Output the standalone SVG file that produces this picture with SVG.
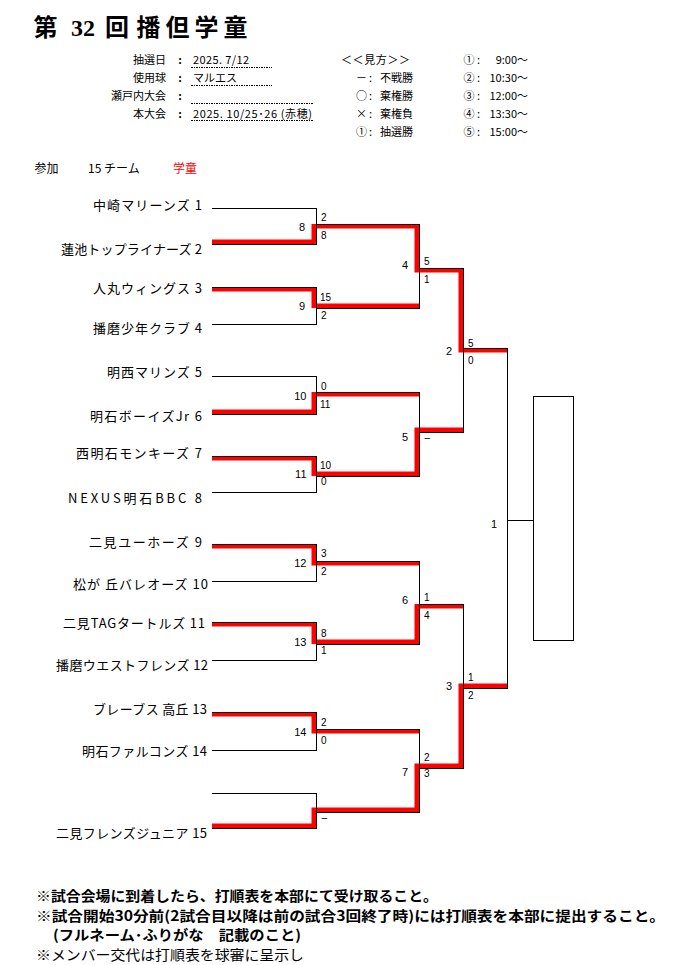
<svg xmlns="http://www.w3.org/2000/svg" width="694" height="965" viewBox="0 0 694 965">
<style>
text { font-family: "Noto Sans CJK JP", "Liberation Sans", sans-serif; fill: #000; }
.team { font-size: 13px; text-anchor: end; }
.sc { font-family: "Liberation Sans", sans-serif; font-size: 10px; }
.ml { font-family: "Liberation Sans", sans-serif; font-size: 11px; text-anchor: end; }
.inf { font-size: 11px; }
.lbl { font-size: 11px; text-anchor: end; }
.ln { stroke: #000; stroke-width: 1; fill: none; shape-rendering: crispEdges; }
.dot { stroke: #000; stroke-width: 1; stroke-dasharray: 1.5 1; fill: none; shape-rendering: crispEdges; }
.rd { fill: #ff0000; }
.ft { font-size: 14px; font-weight: bold; }
.ftn { font-size: 14px; font-weight: normal; }
</style>
<rect width="694" height="965" fill="#fff"/>

<g id="header">
  <text font-size="24" font-weight="bold" y="36"><tspan x="33.5">第</tspan><tspan x="71" font-family="Liberation Serif, serif">32</tspan><tspan x="105">回</tspan><tspan x="136.5" textLength="111">播但学童</tspan></text>
  <text class="inf lbl" x="166" y="64">抽選日</text>
  <text class="inf lbl" x="166" y="82">使用球</text>
  <text class="inf lbl" x="166" y="100">瀬戸内大会</text>
  <text class="inf lbl" x="166" y="118">本大会</text>
  <text class="inf" x="180" y="64" text-anchor="middle" font-weight="bold">:</text>
  <text class="inf" x="180" y="82" text-anchor="middle" font-weight="bold">:</text>
  <text class="inf" x="180" y="100" text-anchor="middle" font-weight="bold">:</text>
  <text class="inf" x="180" y="118" text-anchor="middle" font-weight="bold">:</text>
  <text class="inf" x="193" y="64" textLength="56">2025. 7/12</text>
  <text class="inf" x="193" y="82">マルエス</text>
  <text class="inf" x="193" y="118" textLength="119">2025. 10/25･26 (赤穂)</text>
  <path class="dot" d="M191 67.5H272M191 85H272M191 103H313M191 120.5H313"/>

  <text class="inf" x="341" y="64" textLength="69">＜＜見方＞＞</text>
  <text class="inf" x="356" y="82">－</text><text class="inf" x="369" y="82">:</text><text class="inf" x="380" y="82">不戦勝</text>
  <text class="inf" x="356" y="100">○</text><text class="inf" x="369" y="100">:</text><text class="inf" x="380" y="100">棄権勝</text>
  <text class="inf" x="356" y="118">×</text><text class="inf" x="369" y="118">:</text><text class="inf" x="380" y="118">棄権負</text>
  <text class="inf" x="356" y="136">①</text><text class="inf" x="369" y="136">:</text><text class="inf" x="380" y="136">抽選勝</text>

  <text class="inf" x="463.5" y="64">①</text><text class="inf" x="477" y="64">:</text><text class="inf" x="528" y="64" text-anchor="end">9:00～</text>
  <text class="inf" x="463.5" y="82">②</text><text class="inf" x="477" y="82">:</text><text class="inf" x="528" y="82" text-anchor="end">10:30～</text>
  <text class="inf" x="463.5" y="100">③</text><text class="inf" x="477" y="100">:</text><text class="inf" x="528" y="100" text-anchor="end">12:00～</text>
  <text class="inf" x="463.5" y="118">④</text><text class="inf" x="477" y="118">:</text><text class="inf" x="528" y="118" text-anchor="end">13:30～</text>
  <text class="inf" x="463.5" y="136">⑤</text><text class="inf" x="477" y="136">:</text><text class="inf" x="528" y="136" text-anchor="end">15:00～</text>

  <text font-size="12" x="34.5" y="173">参加</text>
  <text font-size="12" x="88" y="173">15 チーム</text>
  <text font-size="12" x="173" y="173" style="fill:#ff0000">学童</text>
</g>

<g id="connectors">
  <g id="red-path">
    <rect class="rd" x="212" y="239.5" width="104" height="4.5"/>
    <rect class="rd" x="212" y="287" width="104" height="4.5"/>
    <rect class="rd" x="212" y="409.5" width="104" height="4.5"/>
    <rect class="rd" x="212" y="456" width="104" height="4.5"/>
    <rect class="rd" x="212" y="544" width="104" height="4.5"/>
    <rect class="rd" x="212" y="622" width="104" height="4.5"/>
    <rect class="rd" x="212" y="712" width="104" height="4.5"/>
    <rect class="rd" x="212" y="823.5" width="104" height="4.5"/>

    <rect class="rd" x="311.5" y="224" width="4.5" height="20"/>
    <rect class="rd" x="311.5" y="287" width="4.5" height="21"/>
    <rect class="rd" x="311.5" y="392" width="4.5" height="22"/>
    <rect class="rd" x="311.5" y="456" width="4.5" height="20"/>
    <rect class="rd" x="311.5" y="544" width="4.5" height="21.5"/>
    <rect class="rd" x="311.5" y="622" width="4.5" height="22"/>
    <rect class="rd" x="311.5" y="712" width="4.5" height="21.5"/>
    <rect class="rd" x="311.5" y="807.5" width="4.5" height="20.5"/>

    <rect class="rd" x="316" y="224" width="103" height="4.5"/>
    <rect class="rd" x="316" y="303.5" width="103" height="4.5"/>
    <rect class="rd" x="316" y="392" width="103" height="4.5"/>
    <rect class="rd" x="316" y="471.5" width="103" height="4.5"/>
    <rect class="rd" x="316" y="561" width="103" height="4.5"/>
    <rect class="rd" x="316" y="639.5" width="103" height="4.5"/>
    <rect class="rd" x="316" y="729" width="103" height="4.5"/>
    <rect class="rd" x="316" y="807.5" width="103" height="4.5"/>

    <rect class="rd" x="414.5" y="224" width="4.5" height="48.5"/>
    <rect class="rd" x="414.5" y="427.5" width="4.5" height="48.5"/>
    <rect class="rd" x="414.5" y="604" width="4.5" height="40"/>
    <rect class="rd" x="414.5" y="763.5" width="4.5" height="48.5"/>

    <rect class="rd" x="419" y="268" width="44" height="4.5"/>
    <rect class="rd" x="419" y="427.5" width="44" height="4.5"/>
    <rect class="rd" x="419" y="604" width="44" height="4.5"/>
    <rect class="rd" x="419" y="763.5" width="44" height="4.5"/>

    <rect class="rd" x="458.5" y="268" width="4.5" height="84.5"/>
    <rect class="rd" x="458.5" y="683.5" width="4.5" height="84.5"/>

    <rect class="rd" x="463" y="348" width="44" height="4.5"/>
    <rect class="rd" x="463" y="683.5" width="44" height="4.5"/>
  </g>
  <path class="ln" d="M212 208H316V244H212M212 287H316V324H212M212 376H316V414H212M212 456H316V492H212M212 544H316V581H212M212 622H316V660H212M212 712H316V750H212M212 793H316V828H212"/>
  <path class="ln" d="M316 224H419V308H316M316 392H419V476H316M316 561H419V644H316M316 729H419V812H316"/>
  <path class="ln" d="M419 268H463V432H419M419 604H463V768H419"/>
  <path class="ln" d="M463 348H507V688H463M507 520H533.5"/>
</g>

<g id="winner-box"><rect class="ln" x="533.5" y="396" width="40" height="244"/></g>

<g id="team-1"><text class="team" x="202" y="210" textLength="109">中崎マリーンズ 1</text></g>
<g id="team-2"><text class="team" x="202" y="254" textLength="141">蓮池トップライナーズ 2</text></g>
<g id="team-3"><text class="team" x="202" y="293" textLength="109">人丸ウィングス 3</text></g>
<g id="team-4"><text class="team" x="202" y="333" textLength="109">播磨少年クラブ 4</text></g>
<g id="team-5"><text class="team" x="202" y="377" textLength="95">明西マリンズ 5</text></g>
<g id="team-6"><text class="team" x="202" y="421" textLength="112">明石ボーイズJr 6</text></g>
<g id="team-7"><text class="team" x="202" y="458" textLength="126">西明石モンキーズ 7</text></g>
<g id="team-8"><text class="team" x="202" y="503" textLength="134">NEXUS明石BBC 8</text></g>
<g id="team-9"><text class="team" x="202" y="547" textLength="113">二見ユーホーズ 9</text></g>
<g id="team-10"><text class="team" x="208" y="589" textLength="135">松が 丘バレオーズ 10</text></g>
<g id="team-11"><text class="team" x="205" y="628" textLength="142">二見TAGタートルズ 11</text></g>
<g id="team-12"><text class="team" x="208" y="670" textLength="152">播磨ウエストフレンズ 12</text></g>
<g id="team-13"><text class="team" x="207" y="714" textLength="114">ブレーブス 高丘 13</text></g>
<g id="team-14"><text class="team" x="207" y="756" textLength="125">明石ファルコンズ 14</text></g>
<g id="team-15"><text class="team" x="207" y="838" textLength="151">二見フレンズジュニア 15</text></g>

<g id="match-8"><text class="ml" x="305" y="230.6">8</text><text class="sc" x="321" y="220.6">2</text><text class="sc" x="321" y="238.6">8</text></g>
<g id="match-9"><text class="ml" x="305" y="309.6">9</text><text class="sc" x="320" y="301.3">15</text><text class="sc" x="321" y="318.6">2</text></g>
<g id="match-10"><text class="ml" x="306.5" y="399.6">10</text><text class="sc" x="321" y="390.3">0</text><text class="sc" x="320" y="407.6">11</text></g>
<g id="match-11"><text class="ml" x="306.5" y="477.9">11</text><text class="sc" x="320" y="468.6">10</text><text class="sc" x="321" y="485.3">0</text></g>
<g id="match-12"><text class="ml" x="306.5" y="566.6">12</text><text class="sc" x="321" y="556.9">3</text><text class="sc" x="321" y="575.3">2</text></g>
<g id="match-13"><text class="ml" x="306.5" y="645.6">13</text><text class="sc" x="321" y="636.9">8</text><text class="sc" x="321" y="654.3">1</text></g>
<g id="match-14"><text class="ml" x="306.5" y="735.6">14</text><text class="sc" x="321" y="725.9">2</text><text class="sc" x="321" y="743.6">0</text></g>
<g id="match-bye"><text class="sc" x="321.5" y="820.5">–</text></g>
<g id="match-4"><text class="ml" x="408" y="268.9">4</text><text class="sc" x="424" y="265.1">5</text><text class="sc" x="424" y="282.6">1</text></g>
<g id="match-5"><text class="ml" x="408" y="440.6">5</text><text class="sc" x="424.5" y="441.2">–</text></g>
<g id="match-6"><text class="ml" x="408" y="603.9">6</text><text class="sc" x="424" y="600.9">1</text><text class="sc" x="424" y="619.3">4</text></g>
<g id="match-7"><text class="ml" x="408" y="776.2">7</text><text class="sc" x="424" y="760.9">2</text><text class="sc" x="424" y="776.9">3</text></g>
<g id="match-2"><text class="ml" x="452" y="354.6">2</text><text class="sc" x="468" y="346.6">5</text><text class="sc" x="468" y="363.6">0</text></g>
<g id="match-3"><text class="ml" x="452" y="689.9">3</text><text class="sc" x="468" y="681.3">1</text><text class="sc" x="468" y="698.6">2</text></g>
<g id="match-1"><text class="ml" x="497" y="527.9">1</text></g>

<g id="footer">
  <text class="ft" x="36" y="901" textLength="402" lengthAdjust="spacingAndGlyphs">※試合会場に到着したら、打順表を本部にて受け取ること。</text>
  <text class="ft" x="36" y="920.5" textLength="629" lengthAdjust="spacingAndGlyphs">※試合開始30分前(2試合目以降は前の試合3回終了時)には打順表を本部に提出すること。</text>
  <text class="ft" x="53" y="940" textLength="248" lengthAdjust="spacingAndGlyphs">(フルネーム･ふりがな　記載のこと)</text>
  <text class="ftn" x="36" y="959.5" textLength="268" lengthAdjust="spacingAndGlyphs">※メンバー交代は打順表を球審に呈示し</text>
</g>
</svg>
